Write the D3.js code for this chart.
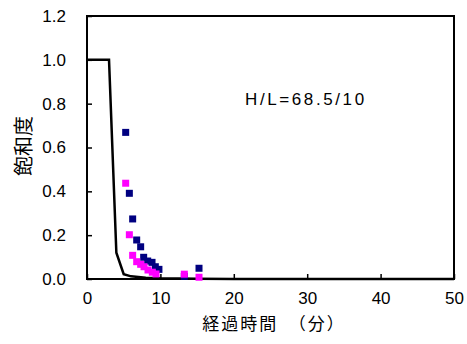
<!DOCTYPE html>
<html><head><meta charset="utf-8">
<script src="https://cdn.jsdelivr.net/npm/d3@7"></script>
<style>body{margin:0;background:#fff}svg{display:block}</style>
</head><body><svg id="c" width="467" height="344"></svg>
<script>
const xTicks = [0, 10, 20, 30, 40, 50];
const yTicks = [0, 0.2, 0.4, 0.6, 0.8, 1.0, 1.2];
const lineT = [0, 3, 4, 5, 6, 8, 10, 15, 20, 30, 40, 50];
const lineS = [1.0, 1.0, 0.12, 0.022, 0.012, 0.006, 0.003, 0.001, 0, 0, 0, 0];
const navyT = [5.27, 5.77, 6.22, 6.77, 7.31, 7.72, 8.27, 8.86, 9.31, 9.8, 13.26, 15.26];
const navyS = [0.669, 0.391, 0.274, 0.178, 0.147, 0.099, 0.082, 0.076, 0.056, 0.044, 0.012, 0.049];
const pinkT = [5.27, 5.77, 6.22, 6.77, 7.31, 7.77, 8.31, 8.9, 9.4, 13.26, 15.26];
const pinkS = [0.437, 0.202, 0.108, 0.079, 0.067, 0.056, 0.041, 0.031, 0.023, 0.022, 0.008];
const annotation = "H/L=68.5/10";
const xTitle = "経過時間　（分）";
const yTitle = "飽和度";

const svg = d3.select("#c");
const x = d3.scaleLinear().domain([0, 50]).range([87, 454]);
const y = d3.scaleLinear().domain([0, 1.2]).range([279, 16]);
const font = "'Liberation Sans', Arial, sans-serif";
const cjk = "'Noto Sans CJK JP', sans-serif";

// frame
svg.append("rect").attr("x", x(0)).attr("y", y(1.2)).attr("width", x(50) - x(0)).attr("height", y(0) - y(1.2))
  .attr("fill", "none").attr("stroke", "#000").attr("stroke-width", 2);

// axes
const xa = svg.append("g").attr("transform", `translate(0,${y(0)})`)
  .call(d3.axisBottom(x).tickValues(xTicks).tickSizeInner(-5).tickSizeOuter(0).tickPadding(13).tickFormat(d3.format("d")));
const ya = svg.append("g").attr("transform", `translate(${x(0)},0)`)
  .call(d3.axisLeft(y).tickValues(yTicks).tickSizeInner(-5).tickSizeOuter(0).tickPadding(21).tickFormat(d3.format(".1f")));
[xa, ya].forEach(g => {
  g.select(".domain").remove();
  g.selectAll("line").attr("stroke", "#000").attr("stroke-width", 1.5);
  g.selectAll("text").attr("font-family", font).attr("font-size", 17).attr("fill", "#000");
});

// line
svg.append("path").datum(lineT.map((t, i) => [t, lineS[i]]))
  .attr("fill", "none").attr("stroke", "#000").attr("stroke-width", 2.5)
  .attr("d", d3.line().x(d => x(d[0])).y(d => y(d[1])));

const sz = 7;
svg.append("g").selectAll("rect").data(navyT.map((t, i) => [t, navyS[i]])).join("rect")
  .attr("x", d => x(d[0]) - sz / 2).attr("y", d => y(d[1]) - sz / 2).attr("width", sz).attr("height", sz).attr("fill", "#000080");
svg.append("g").selectAll("rect").data(pinkT.map((t, i) => [t, pinkS[i]])).join("rect")
  .attr("x", d => x(d[0]) - sz / 2).attr("y", d => y(d[1]) - sz / 2).attr("width", sz).attr("height", sz).attr("fill", "#ff00ff");

svg.append("text").attr("x", 245).attr("y", 105).attr("font-family", font).attr("font-size", 17)
  .attr("letter-spacing", 2.6).text(annotation);
svg.append("text").attr("x", 274).attr("y", 330).attr("text-anchor", "middle").attr("font-family", cjk).attr("font-size", 17)
  .attr("letter-spacing", 2).text(xTitle);
svg.append("text").attr("transform", "translate(31,146) rotate(-90)").attr("text-anchor", "middle").attr("font-family", cjk).attr("font-size", 20).text(yTitle);
</script></body></html>
